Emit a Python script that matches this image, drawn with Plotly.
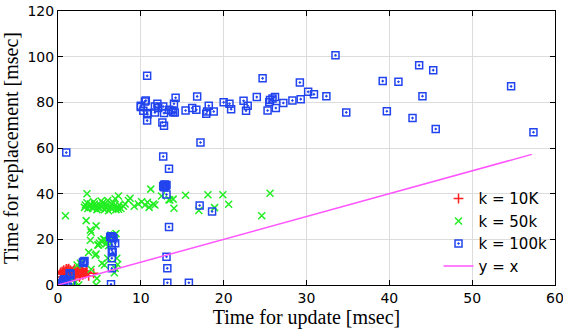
import plotly.graph_objects as go

# k = 10K (red +)
k10_x = [0.3,0.5,0.6,0.7,0.8,0.9,1.0,1.1,1.2,1.3,1.4,1.5,1.6,1.7,1.8,1.9,2.0,2.1,2.2,2.3,2.4,2.5,2.6,2.7,2.8,2.9,3.0,3.2,3.4,
         0.6,0.9,1.2,1.5,1.8,2.1,2.4,2.7,3.0,3.3,0.4,0.2,0.1,0.8,1.4,3.7,4.3,1.9,2.6,1.0,1.3,2.0,2.9,3.5]
k10_y = [5.5,6.0,5.0,6.5,5.5,6.0,5.0,6.8,5.8,6.2,5.2,6.5,5.6,6.0,5.4,6.3,5.8,6.0,5.0,6.4,5.7,6.2,5.3,6.0,5.6,6.6,5.9,5.2,6.1,
         4.8,4.5,4.6,4.7,4.8,4.5,4.9,4.6,4.4,5.0,3.5,1.5,0.5,2.5,3.0,4.0,5.1,2.2,3.5,7.0,7.2,6.9,7.1,5.6]

# k = 50k (green x)
k50_x = [0.9,3.5,3.4,
         3.2,3.3,3.5,3.6,3.8,4.0,4.1,4.2,4.4,4.5,4.7,4.8,5.0,5.1,5.3,5.4,5.6,5.8,5.9,6.1,6.3,6.5,6.6,6.8,7.0,7.2,
         7.4,7.6,7.9,8.1,8.5,3.9,4.3,5.2,6.0,6.7,7.3,5.7,6.9,9.2,9.7,10.1,10.5,10.8,11.0,11.5,
         7.3,8.7,11.2,11.7,12.5,13.4,13.9,14.0,13.5,15.4,17.0,18.1,18.9,19.9,20.6,24.6,25.6,
         4.0,3.9,4.6,3.7,4.6,4.9,5.2,5.6,6.4,6.8,6.0,7.1,5.6,5.3,6.9,6.8,4.0,4.7,4.6,2.5,2.3,2.7,3.9,
         5.0,5.3,5.8,6.1,4.8,5.5,6.2,7.0,1.5,2.0,1.2,0.5,7.2,4.5]
k50_y = [30.3,40.0,28.2,
         34.0,35.0,36.0,33.5,34.5,35.0,34.0,33.5,35.5,34.5,33.0,34.0,35.0,33.5,34.5,36.0,33.0,34.0,35.0,32.5,34.0,35.5,33.5,34.5,33.0,34.0,
         35.0,33.5,34.5,35.5,37.0,35.5,36.5,36.8,37.0,36.0,33.2,35.5,37.8,34.5,35.5,36.5,35.0,36.2,34.0,35.5,
         39.0,38.0,42.0,35.0,39.0,37.3,37.6,33.6,37.2,39.3,32.6,39.5,33.9,39.5,35.4,30.3,40.2,
         23.1,24.1,25.9,14.3,13.6,17.5,19.4,20.0,21.9,21.9,11.7,11.7,8.8,9.5,7.3,5.4,6.9,2.9,0.0,0.0,8.8,9.5,19.6,
         18.3,19.0,18.0,17.2,17.5,20.0,18.8,22.5,3.0,1.0,2.0,0.5,9.0,13.0]

# k = 100k (blue squares)
k100_x = [1.0,10.76,10.0,10.0,10.5,10.6,10.3,10.76,10.8,10.76,11.7,12.0,12.1,11.7,12.7,12.8,12.6,12.8,13.4,13.7,13.9,14.1,14.0,14.2,
          15.4,16.2,16.7,16.8,17.9,18.0,18.2,18.8,20.0,20.7,20.9,22.4,22.7,22.9,24.0,24.7,25.3,25.5,25.6,25.9,26.2,26.3,27.2,
          28.3,29.2,29.3,30.2,30.9,32.4,33.5,34.8,39.2,39.7,41.1,42.8,43.6,44.0,45.3,45.6,54.7,57.4,
          17.2,12.7,13.4,12.7,12.8,12.9,13.0,13.1,12.8,13.1,17.1,18.6,13.4,13.1,13.2,13.2,15.8,
          6.3,6.4,6.5,6.6,6.7,6.9,6.5,6.5,6.6,6.5,6.5,6.4,
          3.0,3.1,3.2,3.1,1.5,1.4,1.5,0.7,0.6,0.8,0.0,0.1,0.2,0.3,0.4,0.5,0.1,0.3,1.6,1.0]
k100_y = [58.0,91.6,78.5,78.0,80.4,80.8,76.3,75.3,74.8,72.0,78.2,79.4,77.5,75.6,78.2,75.3,71.2,69.7,76.7,76.4,75.7,75.6,79.4,82.0,
          76.4,77.5,76.7,82.6,75.0,76.0,78.5,76.0,80.0,79.4,77.0,80.7,76.3,78.5,82.3,90.5,76.4,80.0,81.0,81.7,82.3,77.5,79.7,
          80.8,88.7,81.4,84.6,83.5,82.7,100.6,75.6,89.3,76.1,89.0,73.1,96.2,82.7,94.1,68.3,87.0,66.9,
          62.4,56.3,50.9,43.2,43.8,44.0,43.4,43.8,42.8,39.6,34.8,32.2,25.4,12.4,7.3,1.0,1.0,
          21.0,21.4,21.2,20.8,20.5,18.3,17.5,15.3,14.3,11.7,7.3,0.3,
          9.8,10.2,10.5,9.6,4.8,5.2,4.4,2.2,1.8,2.5,0.0,0.2,0.4,0.6,0.3,0.8,0.5,0.1,0.5,1.2]

# y = x reference line
line_x = [0, 57.2]
line_y = [0, 57.2]

fig = go.Figure()
fig.add_trace(go.Scatter(x=k10_x, y=k10_y, mode="markers", name="k = 10K",
                         marker=dict(symbol="cross-thin", size=7, color="#ff2020",
                                     line=dict(color="#ff2020", width=1.5))))
fig.add_trace(go.Scatter(x=k50_x, y=k50_y, mode="markers", name="k = 50k",
                         marker=dict(symbol="x-thin", size=7, color="#22ee22",
                                     line=dict(color="#22ee22", width=1.5))))
fig.add_trace(go.Scatter(x=k100_x, y=k100_y, mode="markers", name="k = 100k",
                         marker=dict(symbol="square-open-dot", size=7, color="#2244ee",
                                     line=dict(color="#2244ee", width=1.5))))
fig.add_trace(go.Scatter(x=line_x, y=line_y, mode="lines", name="y = x",
                         line=dict(color="#ff55ff", width=1.5)))

axis_common = dict(showline=True, linecolor="black", linewidth=1, mirror="ticks",
                   ticks="inside", ticklen=5, tickcolor="black", automargin=False,
                   ticklabeloverflow="allow",
                   showgrid=True, gridcolor="#dcdcdc", gridwidth=1, zeroline=False,
                   tickfont=dict(family="DejaVu Sans", size=14, color="black"))

fig.update_layout(
    width=563, height=333,
    margin=dict(l=58, r=8, t=11, b=48),
    plot_bgcolor="white", paper_bgcolor="white",
    xaxis=dict(range=[0, 60], dtick=10,
               title=dict(text="Time for update [msec]",
                          font=dict(family="Liberation Serif", size=20, color="black"),
                          standoff=2),
               **axis_common),
    yaxis=dict(range=[0, 120], dtick=20,
               title=dict(text="Time for replacement [msec]",
                          font=dict(family="Liberation Serif", size=20, color="black"),
                          standoff=6),
               **axis_common),
    legend=dict(x=0.995, y=0.01, xanchor="right", yanchor="bottom",
                bgcolor="rgba(255,255,255,0)",
                font=dict(family="DejaVu Sans", size=15, color="black"),
                tracegroupgap=0, itemwidth=30),
    showlegend=True,
)

fig.write_html("out.html", config={"displayModeBar": False},
               post_script="document.body.style.margin='0px';document.body.style.overflow='hidden';")
